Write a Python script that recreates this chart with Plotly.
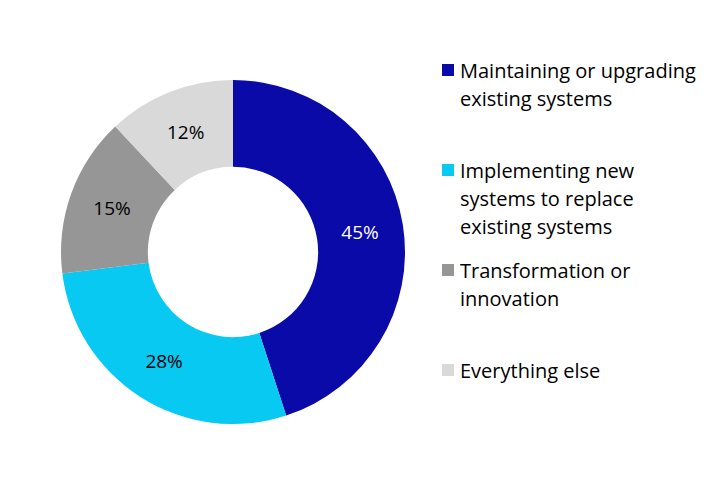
import plotly.graph_objects as go

# slice data (clockwise from 12 o'clock)
labels = [
    "Maintaining or upgrading\nexisting systems",
    "Implementing new\nsystems to replace\nexisting systems",
    "Transformation or\ninnovation",
    "Everything else",
]
values = [45, 28, 15, 12]
colors = ["#0a0aa8", "#08c9f2", "#969696", "#d9d9d9"]
text_colors = ["white", "black", "black", "black"]

W, H = 712, 478
FONT = "Open Sans"
FS = 19
LEG_FS = 20

fig = go.Figure(go.Pie(
    labels=[l.replace("\n", " ") for l in labels],
    values=values,
    sort=False,
    direction="clockwise",
    rotation=0,
    hole=0.495,
    marker=dict(colors=colors, line=dict(width=0)),
    texttemplate="%{value}%",
    textposition="inside",
    insidetextorientation="horizontal",
    textfont=dict(family=FONT, size=FS, color=text_colors),
    hoverinfo="label+percent",
    showlegend=False,
    domain=dict(x=[(233 - 172) / W, (233 + 172) / W],
                y=[(H - 252 - 172) / H, (H - 252 + 172) / H]),
))

# hand-built legend: one entry every 100px, 28px line spacing
shapes, annotations = [], []
for i, (lab, col) in enumerate(zip(labels, colors)):
    top = 70 + 100 * i  # pixel centre of first line
    shapes.append(dict(
        type="rect", xref="paper", yref="paper",
        x0=442 / W, x1=454 / W, y0=1 - (top + 6) / H, y1=1 - (top - 6) / H,
        fillcolor=col, line=dict(width=0),
    ))
    for j, line in enumerate(lab.split("\n")):
        annotations.append(dict(
            text=line, xref="paper", yref="paper",
            x=458 / W, y=1 - (top + 28 * j) / H,
            xanchor="left", yanchor="middle", showarrow=False,
            font=dict(family=FONT, size=LEG_FS, color="black"),
        ))

fig.update_layout(
    width=W, height=H,
    margin=dict(l=0, r=0, t=0, b=0),
    paper_bgcolor="white",
    plot_bgcolor="white",
    shapes=shapes,
    annotations=annotations,
    font=dict(family=FONT, size=FS),
)

fig.write_html("out.html", config={"displayModeBar": False},
               post_script="document.body.style.margin='0';")
